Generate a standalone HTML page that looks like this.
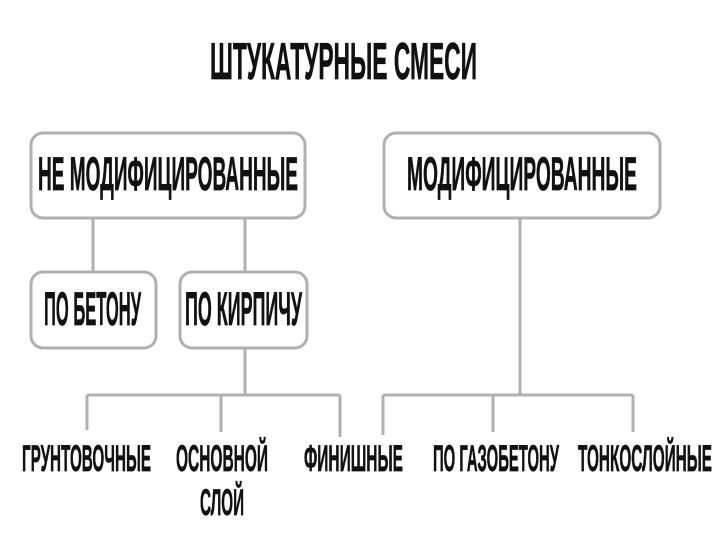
<!DOCTYPE html>
<html><head><meta charset="utf-8"><style>html,body{margin:0;padding:0;background:#fff}svg{display:block}text{font-family:"Liberation Sans Narrow","Liberation Sans",sans-serif;font-weight:bold;fill:#111;stroke:#111;stroke-width:0.7}</style></head>
<body>
<svg width="720" height="544" viewBox="0 0 720 544">
<g fill="none" stroke="#b0b0b0" stroke-width="3">
<rect x="31" y="133" width="274" height="85" rx="12"/>
<rect x="384" y="133" width="276" height="85" rx="12"/>
<rect x="31" y="272" width="125" height="76" rx="12"/>
<rect x="180" y="272" width="127" height="76" rx="12"/>
<path d="M93 218V272M245 218V272M245 348V395M87 395H340M87 395V430M221 395V432M340 395V437"/>
<path d="M520 218V395M383 395H633M383 395V435M493 395V432M633 395V432"/>
</g>
<text x="210" y="79" font-size="52" textLength="267" lengthAdjust="spacingAndGlyphs">ШТУКАТУРНЫЕ СМЕСИ</text>
<text x="38" y="190" font-size="47" textLength="260" lengthAdjust="spacingAndGlyphs">НЕ МОДИФИЦИРОВАННЫЕ</text>
<text x="407" y="190" font-size="47" textLength="230" lengthAdjust="spacingAndGlyphs">МОДИФИЦИРОВАННЫЕ</text>
<text x="44" y="325" font-size="47" textLength="97" lengthAdjust="spacingAndGlyphs">ПО БЕТОНУ</text>
<text x="185" y="325" font-size="47" textLength="117" lengthAdjust="spacingAndGlyphs">ПО КИРПИЧУ</text>
<text x="22" y="471" font-size="37" textLength="129" lengthAdjust="spacingAndGlyphs">ГРУНТОВОЧНЫЕ</text>
<text x="176" y="471" font-size="37" textLength="92" lengthAdjust="spacingAndGlyphs">ОСНОВНОЙ</text>
<text x="200" y="515" font-size="37" textLength="44" lengthAdjust="spacingAndGlyphs">СЛОЙ</text>
<text x="304" y="471" font-size="37" textLength="99" lengthAdjust="spacingAndGlyphs">ФИНИШНЫЕ</text>
<text x="433" y="471" font-size="37" textLength="126" lengthAdjust="spacingAndGlyphs">ПО ГАЗОБЕТОНУ</text>
<text x="578" y="471" font-size="37" textLength="134" lengthAdjust="spacingAndGlyphs">ТОНКОСЛОЙНЫЕ</text>
</svg>
</body></html>
